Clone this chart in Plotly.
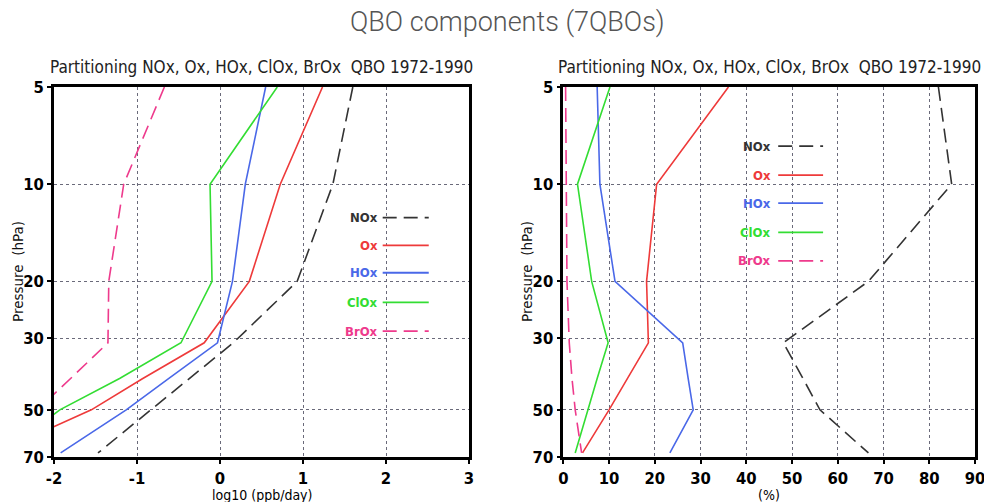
import plotly.graph_objects as go

# ---------------- data ----------------
pressure = [5, 10, 20, 31, 40, 50, 68]
species = ["NOx", "Ox", "HOx", "ClOx", "BrOx"]

# left panel: log10 (ppb/day)
nox_rate = [1.60, 1.36, 0.93, 0.16, -0.37, -0.83, -1.47]
ox_rate = [1.235, 0.726, 0.353, -0.19, -0.93, -1.55, -2.70]
hox_rate = [0.55, 0.305, 0.15, -0.03, -0.62, -1.13, -1.92]
clox_rate = [0.69, -0.12, -0.096, -0.47, -1.21, -1.93, -2.60]
brox_rate = [-0.67, -1.16, -1.34, -1.35, -1.80, -2.20, -2.60]

# right panel: percent
nox_pct = [82.0, 84.9, 66.7, 48.1, 52.4, 56.1, 66.7]
ox_pct = [36.1, 20.4, 18.2, 18.6, 14.0, 10.0, 4.2]
hox_pct = [7.4, 8.0, 11.3, 26.1, 27.3, 28.4, 23.3]
clox_pct = [10.2, 3.1, 6.2, 9.8, 7.4, 5.4, 2.6]
brox_pct = [0.5, 0.6, 0.8, 1.3, 1.9, 2.6, 4.0]

y_ticks = [5, 10, 20, 30, 50, 70]
x_ticks_left = [-2, -1, 0, 1, 2, 3]
x_ticks_right = [0, 10, 20, 30, 40, 50, 60, 70, 80, 90]

main_title = "QBO components (7QBOs)"
panel_title = "Partitioning NOx, Ox, HOx, ClOx, BrOx  QBO 1972-1990"
y_title = "Pressure  (hPa)"
x_title_left = "log10 (ppb/day)"
x_title_right = "(%)"

# ---------------- styles ----------------
colors = {"NOx": "#333333", "Ox": "#ee3a3a", "HOx": "#4a68e8", "ClOx": "#33dd33", "BrOx": "#ee3a8c"}
dashes = {"NOx": "14px,7px", "Ox": "solid", "HOx": "solid", "ClOx": "solid", "BrOx": "14px,7px"}

left_vals = {"NOx": nox_rate, "Ox": ox_rate, "HOx": hox_rate, "ClOx": clox_rate, "BrOx": brox_rate}
right_vals = {"NOx": nox_pct, "Ox": ox_pct, "HOx": hox_pct, "ClOx": clox_pct, "BrOx": brox_pct}

COND = "Liberation Sans Narrow, DejaVu Sans Condensed, Arial Narrow, sans-serif"

fig = go.Figure()
for sp in species:
    fig.add_trace(go.Scatter(x=left_vals[sp], y=pressure, mode="lines", name=sp,
                             line=dict(color=colors[sp], width=1.6, dash=dashes[sp]),
                             xaxis="x", yaxis="y", showlegend=False))
    fig.add_trace(go.Scatter(x=right_vals[sp], y=pressure, mode="lines", name=sp,
                             line=dict(color=colors[sp], width=1.6, dash=dashes[sp]),
                             xaxis="x2", yaxis="y2", showlegend=False))

axis_common = dict(showline=True, linecolor="black", linewidth=2.5, mirror=True,
                   ticks="outside", ticklen=4, tickcolor="black", tickwidth=1.5,
                   showgrid=True, gridcolor="#6a6a7a", griddash="dot", gridwidth=1,
                   zeroline=False, automargin=False, ticklabeloverflow="allow",
                   tickfont=dict(family=COND, size=16.5, color="black", weight="bold"))

ylog = dict(type="log", range=[1.845098, 0.69897], tickvals=y_ticks,
            ticktext=[str(v) for v in y_ticks])

fig.update_layout(
    width=984, height=502,
    margin=dict(l=54, r=9, t=87, b=45),
    paper_bgcolor="white", plot_bgcolor="white",
    xaxis=dict(domain=[0, 0.4506], range=[-2, 3], tickvals=x_ticks_left,
               ticktext=[str(v) for v in x_ticks_left], anchor="y", **axis_common),
    yaxis=dict(domain=[0, 1], anchor="x", **ylog, **axis_common),
    xaxis2=dict(domain=[0.553, 1], range=[0, 90], tickvals=x_ticks_right,
                ticktext=[str(v) for v in x_ticks_right], anchor="y2", **axis_common),
    yaxis2=dict(domain=[0, 1], anchor="x2", **ylog, **axis_common),
)

# titles
fig.add_annotation(text=main_title, xref="paper", yref="paper", x=0.492, y=1.176,
                   xanchor="center", yanchor="middle", showarrow=False,
                   font=dict(family="Roboto, Lato, sans-serif", size=27, color="#555555", weight=300))
for xr, yr in [("x domain", "y domain"), ("x2 domain", "y2 domain")]:
    fig.add_annotation(text=panel_title, xref=xr, yref=yr, x=0.5, y=1.055,
                       xanchor="center", yanchor="middle", showarrow=False,
                       font=dict(family=COND, size=17, color="#222222"))

# x-axis titles
for xr, txt in [("x domain", x_title_left), ("x2 domain", x_title_right)]:
    fig.add_annotation(text=txt, xref=xr, yref="paper", x=0.5, y=-0.103,
                       xanchor="center", yanchor="middle", showarrow=False,
                       font=dict(family=COND, size=14, color="black"))

# y-axis titles
for xpx in [18, 527]:
    fig.add_annotation(text=y_title, xref="paper", yref="paper", x=(xpx - 54) / 921, y=0.5,
                       xanchor="center", yanchor="middle", showarrow=False, textangle=-90,
                       font=dict(family="DejaVu Sans", size=13.5, color="#111111"))

# legends (text left of sample line)
leg_left_y = [0.647, 0.572, 0.498, 0.418, 0.340]
leg_right_y = [0.840, 0.762, 0.686, 0.607, 0.530]
for i, sp in enumerate(species):
    for (xr, yr, tx, l0, l1, yy) in [("x domain", "y domain", 0.785, 0.792, 0.903, leg_left_y[i]),
                                      ("x2 domain", "y2 domain", 0.509, 0.522, 0.631, leg_right_y[i])]:
        fig.add_annotation(text=sp, xref=xr, yref=yr, x=tx, y=yy, xanchor="right",
                           yanchor="middle", showarrow=False,
                           font=dict(family=COND, size=13, color=colors[sp], weight="bold"))
        fig.add_shape(type="line", xref=xr, yref=yr, x0=l0, x1=l1, y0=yy, y1=yy,
                      line=dict(color=colors[sp], width=1.8, dash=dashes[sp]))

fig.write_html("out.html")
